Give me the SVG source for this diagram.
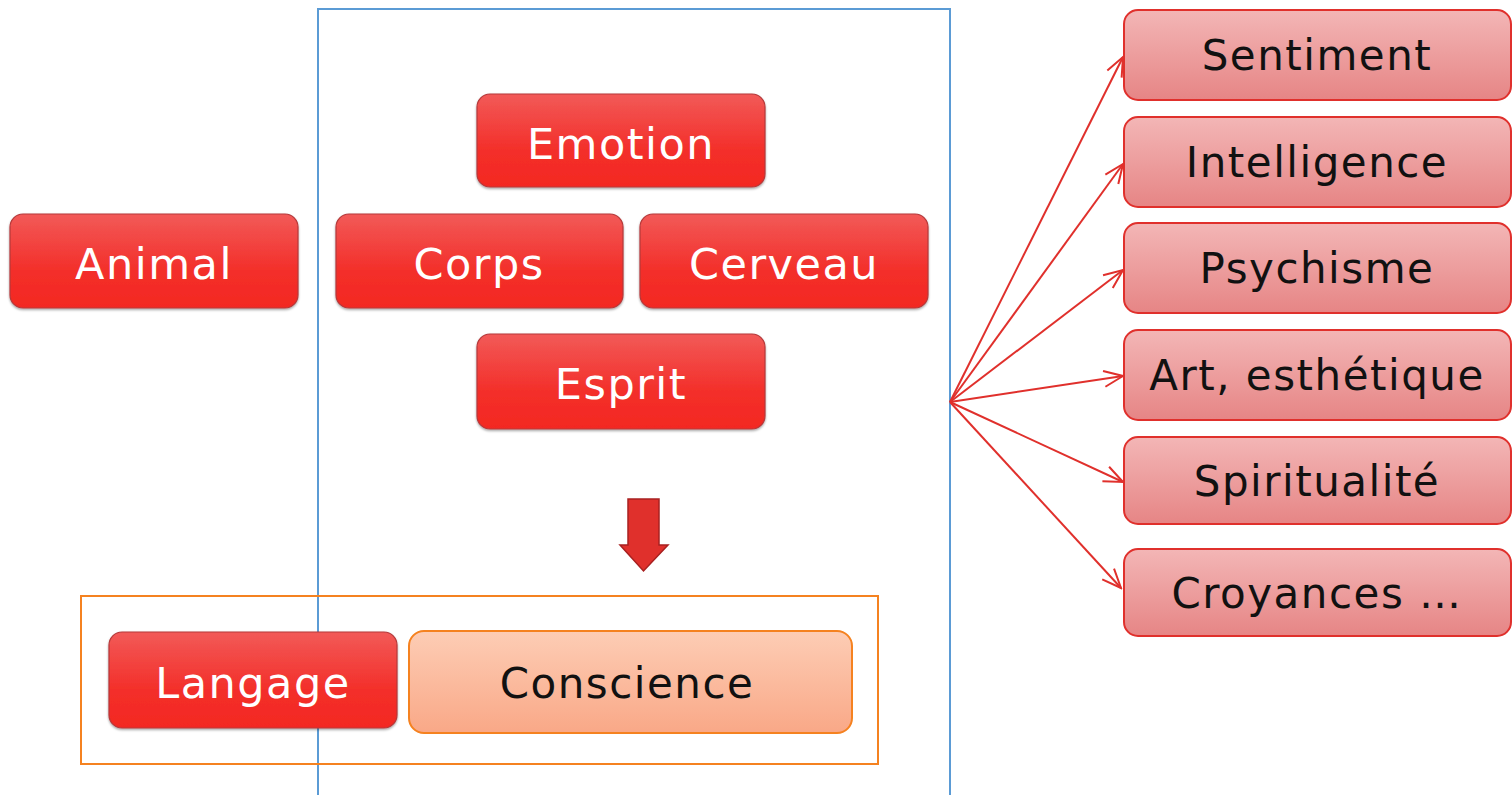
<svg xmlns="http://www.w3.org/2000/svg" width="1512" height="795" viewBox="0 0 1512 795">
<defs>
<linearGradient id="gRed" x1="0" y1="0" x2="0" y2="1">
<stop offset="0" stop-color="#f25a58"/>
<stop offset="0.6" stop-color="#f32f2a"/>
<stop offset="1" stop-color="#f32822"/>
</linearGradient>
<linearGradient id="gPink" x1="0" y1="0" x2="0" y2="1">
<stop offset="0" stop-color="#f3b6b6"/>
<stop offset="1" stop-color="#e68585"/>
</linearGradient>
<linearGradient id="gPeach" x1="0" y1="0" x2="0" y2="1">
<stop offset="0" stop-color="#fdcdb5"/>
<stop offset="1" stop-color="#f9a887"/>
</linearGradient>
<filter id="sh" x="-5%" y="-10%" width="110%" height="125%">
<feDropShadow dx="0" dy="1.5" stdDeviation="1.2" flood-color="#000" flood-opacity="0.35"/>
</filter>
<marker id="ah" viewBox="0 0 24 24" refX="22" refY="12" markerWidth="24" markerHeight="24" markerUnits="userSpaceOnUse" orient="auto">
<path d="M3,4 L22,12 L3,20" fill="none" stroke="#e0302c" stroke-width="2"/>
</marker>
</defs>
<style>
.red{fill:url(#gRed);stroke:#b5393a;stroke-width:1.2;filter:url(#sh)}
.pink{fill:url(#gPink);stroke:#e0302c;stroke-width:2}
.wt{font-family:"DejaVu Sans","Liberation Sans",sans-serif;font-size:43px;letter-spacing:1.5px;fill:#fff;text-anchor:middle}
.bt{font-family:"DejaVu Sans","Liberation Sans",sans-serif;font-size:42px;letter-spacing:1.5px;fill:#111;text-anchor:middle}
.conn{stroke:#e0302c;stroke-width:2;fill:none;marker-end:url(#ah)}
</style>
<rect width="1512" height="795" fill="#fff"/>
<rect x="318" y="9" width="632" height="800" fill="none" stroke="#5b9bd5" stroke-width="2"/>
<rect x="81" y="596" width="797" height="168" fill="none" stroke="#f58220" stroke-width="2"/>

<g id="emotion"><rect class="red" x="477" y="94" width="288" height="93" rx="13"/><text class="wt" x="621" y="159">Emotion</text></g>
<g id="animal"><rect class="red" x="10" y="214" width="288" height="94" rx="13"/><text class="wt" x="154" y="279">Animal</text></g>
<g id="corps"><rect class="red" x="336" y="214" width="287" height="94" rx="13"/><text class="wt" x="479" y="279">Corps</text></g>
<g id="cerveau"><rect class="red" x="640" y="214" width="288" height="94" rx="13"/><text class="wt" x="784" y="279">Cerveau</text></g>
<g id="esprit"><rect class="red" x="477" y="334" width="288" height="95" rx="13"/><text class="wt" x="621" y="399">Esprit</text></g>
<g id="arrow-down"><path d="M628,499 L659,499 L659,545 L668,545 L643.5,571 L620,545 L628,545 Z" fill="#e0302c" stroke="#a82020" stroke-width="1.5"/></g>
<g id="langage"><rect class="red" x="109" y="632" width="288" height="96" rx="13"/><text class="wt" x="253" y="698">Langage</text></g>
<g id="conscience"><rect x="409" y="631" width="443" height="102" rx="15" fill="url(#gPeach)" stroke="#f58220" stroke-width="2"/><text class="bt" x="627" y="698" font-size="43">Conscience</text></g>

<g id="sentiment"><rect class="pink" x="1124" y="10" width="387" height="90" rx="14"/><text class="bt" x="1317" y="70">Sentiment</text></g>
<g id="intelligence"><rect class="pink" x="1124" y="117" width="387" height="90" rx="14"/><text class="bt" x="1317" y="177">Intelligence</text></g>
<g id="psychisme"><rect class="pink" x="1124" y="223" width="387" height="90" rx="14"/><text class="bt" x="1317" y="283">Psychisme</text></g>
<g id="art"><rect class="pink" x="1124" y="330" width="387" height="90" rx="14"/><text class="bt" x="1317" y="390" letter-spacing="0.5">Art, esthétique</text></g>
<g id="spiritualite"><rect class="pink" x="1124" y="437" width="387" height="87" rx="14"/><text class="bt" x="1317" y="496">Spiritualité</text></g>
<g id="croyances"><rect class="pink" x="1124" y="549" width="387" height="87" rx="14"/><text class="bt" x="1317" y="608">Croyances …</text></g>

<g id="connectors">
<line class="conn" x1="950" y1="402" x2="1123" y2="57"/>
<line class="conn" x1="950" y1="402" x2="1123" y2="164"/>
<line class="conn" x1="950" y1="402" x2="1123" y2="270"/>
<line class="conn" x1="950" y1="402" x2="1123" y2="376"/>
<line class="conn" x1="950" y1="402" x2="1123" y2="482"/>
<line class="conn" x1="950" y1="402" x2="1121" y2="588"/>
</g>
</svg>
